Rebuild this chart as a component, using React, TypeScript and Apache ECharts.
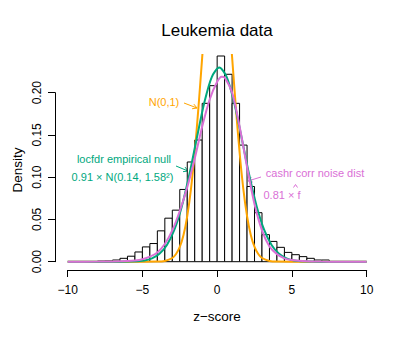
import React, { useEffect, useRef } from "react";
import * as echarts from "echarts";

// Histogram (bin width 0.5), density values
const binStarts = [-8, -7.5, -7, -6.5, -6, -5.5, -5, -4.5, -4, -3.5, -3, -2.5, -2, -1.5, -1, -0.5, 0, 0.5, 1, 1.5, 2, 2.5, 3, 3.5, 4, 4.5, 5, 5.5, 6, 6.5, 7];
const binEnds = [-7.5, -7, -6.5, -6, -5.5, -5, -4.5, -4, -3.5, -3, -2.5, -2, -1.5, -1, -0.5, 0, 0.5, 1, 1.5, 2, 2.5, 3, 3.5, 4, 4.5, 5, 5.5, 6, 6.5, 7, 7.5];
const histDensity = [0.0008, 0.001, 0.002, 0.004, 0.0065, 0.0115, 0.0175, 0.0215, 0.0365, 0.0515, 0.061, 0.0855, 0.118, 0.144, 0.1874, 0.2083, 0.2434, 0.2218, 0.1874, 0.138, 0.089, 0.058, 0.032, 0.024, 0.017, 0.011, 0.0083, 0.006, 0.004, 0.002, 0.002];

// N(0,1) curve
const normX = [-10, -5, -4, -3.5, -3, -2.75, -2.5, -2.25, -2, -1.75, -1.5, -1.25, -1, -0.75, -0.5, -0.25, 0, 0.25, 0.5, 0.75, 1, 1.25, 1.5, 1.75, 2, 2.25, 2.5, 2.75, 3, 3.5, 4, 5, 10];
const normY = [0, 0, 0.0001, 0.0009, 0.0044, 0.0091, 0.0175, 0.0317, 0.054, 0.0863, 0.1295, 0.1826, 0.242, 0.3011, 0.3521, 0.3867, 0.3989, 0.3867, 0.3521, 0.3011, 0.242, 0.1826, 0.1295, 0.0863, 0.054, 0.0317, 0.0175, 0.0091, 0.0044, 0.0009, 0.0001, 0, 0];

// locfdr empirical null 0.91 x N(0.14, 1.58^2)
const nullX = [-10, -6.86, -5.86, -4.86, -4.36, -3.86, -3.36, -2.86, -2.36, -1.86, -1.36, -0.86, -0.36, 0.14, 0.64, 1.14, 1.64, 2.14, 2.64, 3.14, 3.64, 4.14, 4.64, 5.14, 6.14, 7.14, 10];
const nullY = [0, 0.00001, 0.00017, 0.00154, 0.00398, 0.00932, 0.0198, 0.0379, 0.0657, 0.1031, 0.1464, 0.188, 0.2185, 0.2297, 0.2185, 0.188, 0.1464, 0.1031, 0.0657, 0.0379, 0.0198, 0.00932, 0.00398, 0.00154, 0.00017, 0.00001, 0];

// cashr correlated noise distribution 0.81 x f-hat
const cashX = [-10, -8, -7, -6, -5.5, -5, -4.5, -4, -3.5, -3, -2.5, -2, -1.5, -1, -0.5, 0, 0.3, 0.5, 1, 1.5, 2, 2.5, 3, 3.5, 4, 4.5, 5, 6, 7, 8, 10];
const cashY = [0, 0.0001, 0.0003, 0.0008, 0.0015, 0.003, 0.006, 0.011, 0.021, 0.037, 0.06, 0.088, 0.122, 0.16, 0.192, 0.213, 0.219, 0.218, 0.2, 0.16, 0.112, 0.068, 0.037, 0.018, 0.009, 0.004, 0.002, 0.0005, 0.0001, 0, 0];

const xTicks = [-10, -5, 0, 5, 10];
const yTicks = [0, 0.05, 0.1, 0.15, 0.2];

const ORANGE = "#FFA500";
const GREEN = "#00A87E";
const MAGENTA = "#DA70D6";
const FONT = "'Liberation Sans', Arial, Helvetica, sans-serif";

function arrow(x1: number, y1: number, x2: number, y2: number, color: string) {
  const dx = x2 - x1, dy = y2 - y1;
  const len = Math.sqrt(dx * dx + dy * dy);
  const ux = -dx / len, uy = -dy / len;
  const L = 5, c = Math.cos(Math.PI / 6), s = Math.sin(Math.PI / 6);
  const a = [x2 + L * (ux * c - uy * s), y2 + L * (ux * s + uy * c)];
  const b = [x2 + L * (ux * c + uy * s), y2 + L * (-ux * s + uy * c)];
  return [
    { type: "line", shape: { x1, y1, x2, y2 }, style: { stroke: color, lineWidth: 1 } },
    { type: "polyline", shape: { points: [a, [x2, y2], b] }, style: { stroke: color, lineWidth: 1, fill: null } },
  ];
}

function text(x: number, y: number, t: string, color: string, size: number, align = "center", rotation = 0) {
  return {
    type: "text",
    x,
    y,
    rotation,
    style: { text: t, fill: color, fontSize: size, fontFamily: FONT, textAlign: align, textVerticalAlign: "middle" },
  };
}

export default function App() {
  const ref = useRef<HTMLDivElement>(null);
  useEffect(() => {
    if (!ref.current) return;
    const chart = echarts.init(ref.current, null, { renderer: "svg" });
    const histData = binStarts.map((s, i) => [s, binEnds[i], histDensity[i]]);
    const pairs = (xs: number[], ys: number[]) => xs.map((x, i) => [x, ys[i]]);
    const lineSeries = (name: string, xs: number[], ys: number[], color: string) => ({
      name,
      type: "line",
      xAxisIndex: 0,
      yAxisIndex: 0,
      data: pairs(xs, ys),
      showSymbol: false,
      smooth: 0.3,
      clip: true,
      lineStyle: { color, width: 2 },
      silent: true,
    });
    const fmt = (v: number) => String(v).replace("-", "\u2212");
    chart.setOption({
      animation: false,
      backgroundColor: "#ffffff",
      grid: [
        { left: 55.7, right: 28.4, top: 55, bottom: 69 },
        { left: 67.7, right: 40.3, top: 200, bottom: 69 },
        { left: 55, top: 92.7, bottom: 77.3, width: 10 },
      ],
      xAxis: [
        { type: "value", gridIndex: 0, min: -10.8, max: 10.8, show: false },
        {
          type: "value",
          gridIndex: 1,
          min: -10,
          max: 10,
          interval: 5,
          position: "bottom",
          axisLine: { show: true, lineStyle: { color: "#000", width: 1 } },
          axisTick: { show: true, length: 7, lineStyle: { color: "#000" } },
          axisLabel: { show: true, margin: 14, fontSize: 12, color: "#000", fontFamily: FONT, formatter: (v: number) => fmt(v), customValues: xTicks },
          splitLine: { show: false },
        },
        { type: "value", gridIndex: 2, show: false },
      ],
      yAxis: [
        { type: "value", gridIndex: 0, min: -0.00982, max: 0.2446, show: false },
        { type: "value", gridIndex: 1, show: false },
        {
          type: "value",
          gridIndex: 2,
          min: 0,
          max: 0.2,
          interval: 0.05,
          position: "left",
          axisLine: { show: true, lineStyle: { color: "#000", width: 1 } },
          axisTick: { show: true, length: 7, lineStyle: { color: "#000" } },
          axisLabel: { show: true, margin: 12, rotate: 90, fontSize: 12, color: "#000", fontFamily: FONT, formatter: (v: number) => v.toFixed(2), customValues: yTicks },
          splitLine: { show: false },
        },
      ],
      series: [
        {
          type: "custom",
          xAxisIndex: 0,
          yAxisIndex: 0,
          silent: true,
          data: histData,
          renderItem: (params: any, api: any) => {
            const p0 = api.coord([api.value(0), 0]);
            const p1 = api.coord([api.value(1), api.value(2)]);
            return {
              type: "rect",
              shape: { x: p0[0], y: p1[1], width: p1[0] - p0[0], height: p0[1] - p1[1] },
              style: { fill: "#ffffff", stroke: "#000000", lineWidth: 1 },
            };
          },
        },
        lineSeries("N(0,1)", normX, normY, ORANGE),
        lineSeries("locfdr", nullX, nullY, GREEN),
        lineSeries("cashr", cashX, cashY, MAGENTA),
      ],
      graphic: [
        text(217, 30, "Leukemia data", "#000", 17),
        text(217, 316, "z\u2212score", "#000", 13.5),
        text(17, 170, "Density", "#000", 13.5, "center", Math.PI / 2),
        text(164, 102, "N(0,1)", ORANGE, 11),
        ...arrow(184, 103, 197, 108, ORANGE),
        text(124, 159, "locfdr empirical null", GREEN, 11),
        text(122.5, 177, "0.91 \u00d7 N(0.14, 1.58\u00b2)", GREEN, 11),
        ...arrow(176, 166, 188, 171, GREEN),
        text(315, 173, "cashr corr noise dist", MAGENTA, 11),
        text(263.5, 195, "0.81 \u00d7 f", MAGENTA, 11, "left"),
        { type: "polyline", shape: { points: [[293.5, 187.5], [295.5, 184.5], [297.5, 187.5]] }, style: { stroke: MAGENTA, lineWidth: 1, fill: null } },
        ...arrow(261, 177, 248, 181, MAGENTA),
      ],
    });
    return () => chart.dispose();
  }, []);
  return <div ref={ref} style={{ position: "fixed", left: 0, top: 0, width: 407, height: 339, background: "#fff" }} />;
}
